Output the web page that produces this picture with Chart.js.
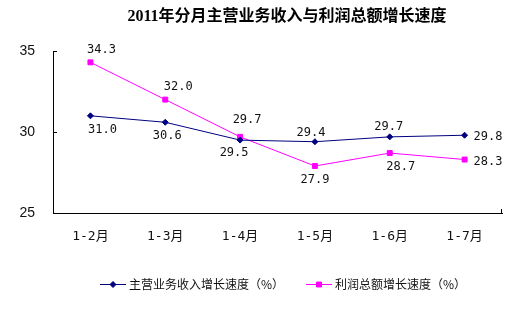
<!DOCTYPE html>
<html lang="zh">
<head>
<meta charset="UTF-8">
<title>2011年分月主营业务收入与利润总额增长速度</title>
<script src="https://cdn.jsdelivr.net/npm/chart.js"></script>
<style>
  html, body { margin: 0; padding: 0; background: #fff; }
  canvas { display: block; }
</style>
</head>
<body>
<canvas id="growthChart" width="531" height="327"></canvas>
<script>
const chartTitle = '2011年分月主营业务收入与利润总额增长速度';
const categories = ['1-2月', '1-3月', '1-4月', '1-5月', '1-6月', '1-7月'];
const revenueGrowth = [31.0, 30.6, 29.5, 29.4, 29.7, 29.8];
const profitGrowth = [34.3, 32.0, 29.7, 27.9, 28.7, 28.3];
const yTicks = [25, 30, 35];
const seriesNames = ['主营业务收入增长速度（%）', '利润总额增长速度（%）'];

// where each value label sits relative to its point
const revenueLabelPos = [
  { dx: 12, dy: 14 }, { dx: 2, dy: 14 }, { dx: -6, dy: 13 },
  { dx: -4, dy: -9 }, { dx: -1, dy: -10 }, { dx: 9, dy: 2, align: 'left' }
];
const profitLabelPos = [
  { dx: 11, dy: -12 }, { dx: 13, dy: -13 }, { dx: 7, dy: -17 },
  { dx: 0, dy: 14 }, { dx: 11, dy: 14 }, { dx: 9, dy: 2, align: 'left' }
];

const NAVY = '#000080';
const MAGENTA = '#ff00ff';
const cjk = '"Noto Sans CJK SC"';

const valueLabels = {
  id: 'valueLabels',
  afterDatasetsDraw(chart) {
    const ctx = chart.ctx;
    ctx.save();
    ctx.font = '12px "DejaVu Sans Mono", ' + cjk;
    ctx.fillStyle = '#111';
    ctx.textBaseline = 'middle';
    chart.data.datasets.forEach((ds, i) => {
      const meta = chart.getDatasetMeta(i);
      meta.data.forEach((pt, j) => {
        const pos = ds.labelPos[j];
        ctx.textAlign = pos.align || 'center';
        ctx.fillText(ds.data[j].toFixed(1), pt.x + pos.dx, pt.y + pos.dy);
      });
    });
    ctx.restore();
  }
};

const decorations = {
  id: 'decorations',
  afterDraw(chart) {
    const ctx = chart.ctx;
    const area = chart.chartArea;
    const y = chart.scales.y;
    ctx.save();

    // small inward tick marks on both axes
    ctx.strokeStyle = '#000';
    ctx.lineWidth = 1;
    y.ticks.forEach(t => {
      const py = Math.round(y.getPixelForValue(t.value)) + 0.5;
      ctx.beginPath();
      ctx.moveTo(area.left, py);
      ctx.lineTo(area.left + 4, py);
      ctx.stroke();
    });
    const rx = Math.round(area.right) - 0.5;
    ctx.beginPath();
    ctx.moveTo(rx, area.bottom);
    ctx.lineTo(rx, area.bottom - 4);
    ctx.stroke();

    // title
    ctx.fillStyle = '#000';
    ctx.font = 'bold 16px "Liberation Serif", ' + cjk;
    ctx.textAlign = 'center';
    ctx.textBaseline = 'middle';
    ctx.fillText(chartTitle, 287, 17);

    // legend: line with marker, then name
    const legendX = [100, 306];
    const ly = 284.5;
    ctx.font = '12px ' + cjk;
    ctx.textAlign = 'left';
    chart.data.datasets.forEach((ds, i) => {
      const x0 = legendX[i];
      ctx.strokeStyle = ds.borderColor;
      ctx.fillStyle = ds.backgroundColor;
      ctx.lineWidth = 1;
      ctx.beginPath();
      ctx.moveTo(x0, ly);
      ctx.lineTo(x0 + 26, ly);
      ctx.stroke();
      Chart.helpers.drawPoint(ctx, {
        pointStyle: ds.pointStyle,
        radius: ds.pointRadius,
        borderWidth: 1
      }, x0 + 13, ly);
      ctx.fillStyle = '#111';
      ctx.fillText(ds.label, x0 + 29, ly);
    });
    ctx.restore();
  }
};

new Chart(document.getElementById('growthChart'), {
  type: 'line',
  data: {
    labels: categories,
    datasets: [
      {
        label: seriesNames[0],
        data: revenueGrowth,
        labelPos: revenueLabelPos,
        borderColor: NAVY,
        backgroundColor: NAVY,
        borderWidth: 1,
        pointStyle: 'rectRot',
        pointRadius: 3,
        pointBorderWidth: 1,
        tension: 0
      },
      {
        label: seriesNames[1],
        data: profitGrowth,
        labelPos: profitLabelPos,
        borderColor: MAGENTA,
        backgroundColor: MAGENTA,
        borderWidth: 1,
        pointStyle: 'rect',
        pointRadius: 3.5,
        pointBorderWidth: 1,
        tension: 0
      }
    ]
  },
  options: {
    responsive: false,
    animation: false,
    layout: { padding: { top: 51, right: 29, left: 0, bottom: 0 } },
    plugins: {
      legend: { display: false },
      title: { display: false },
      tooltip: { enabled: false }
    },
    scales: {
      x: {
        offset: true,
        grid: { display: false, drawTicks: false },
        border: { display: true, color: '#000', width: 1 },
        ticks: {
          color: '#111',
          font: { family: '"DejaVu Sans Mono", ' + cjk, size: 13 },
          padding: 16,
          maxRotation: 0
        },
        afterFit(scale) { scale.height = 114; }
      },
      y: {
        min: 25,
        max: 35,
        grid: { display: false, drawTicks: false },
        border: { display: true, color: '#000', width: 1 },
        ticks: {
          color: '#111',
          font: { family: '"Liberation Sans", Arial', size: 14 },
          padding: 18
        },
        afterBuildTicks(scale) { scale.ticks = yTicks.map(v => ({ value: v })); },
        afterFit(scale) { scale.width = 53; }
      }
    }
  },
  plugins: [valueLabels, decorations]
});
</script>
</body>
</html>
